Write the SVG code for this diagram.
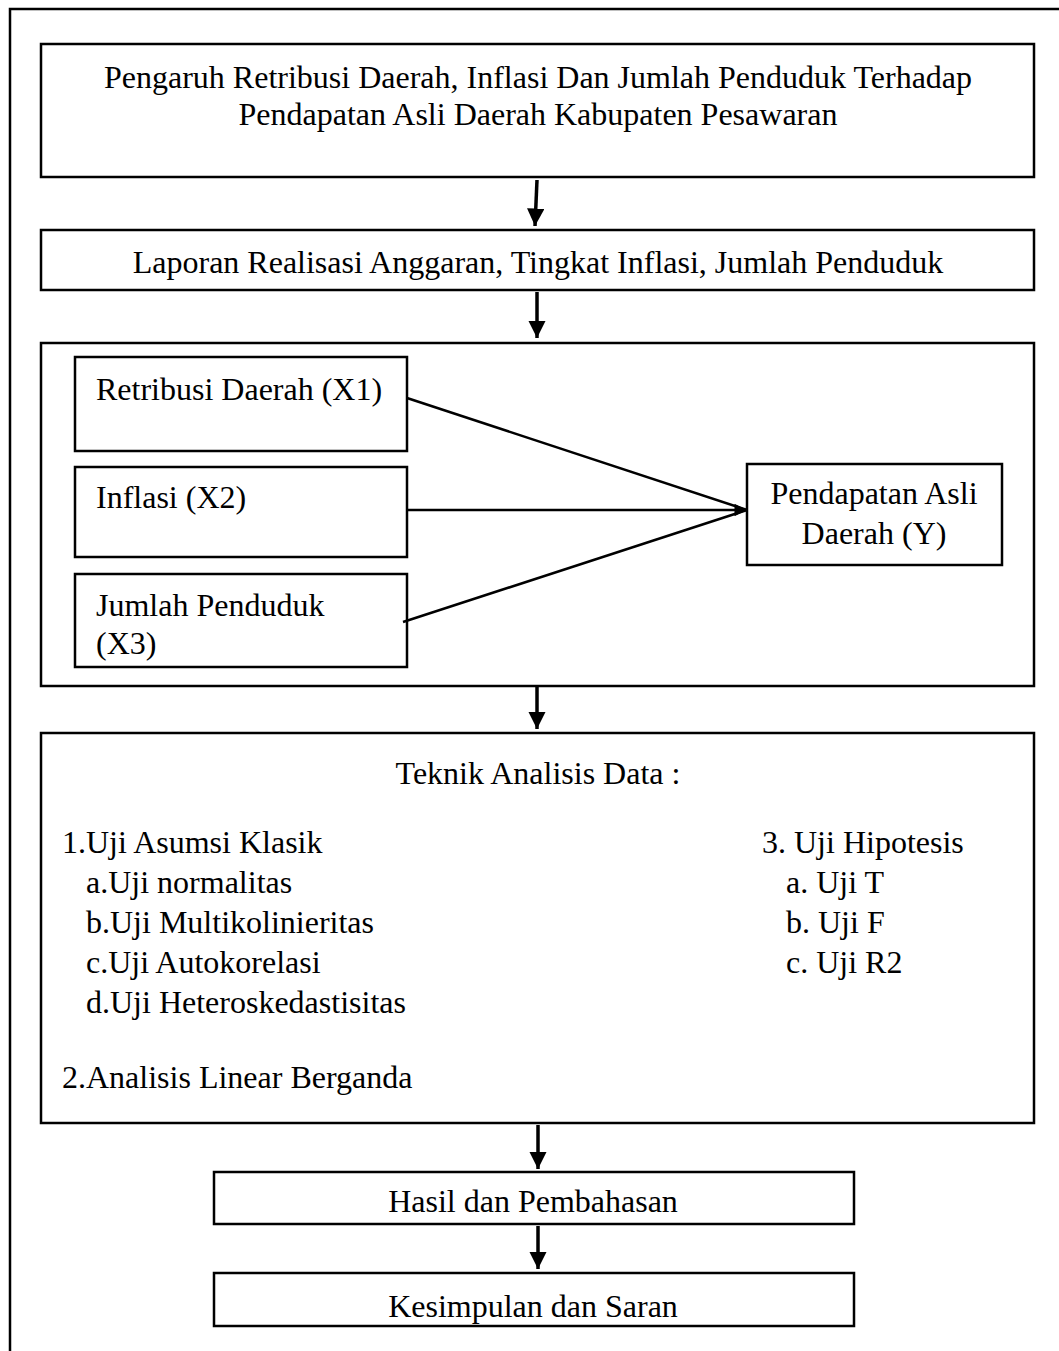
<svg xmlns="http://www.w3.org/2000/svg" width="1059" height="1351" viewBox="0 0 1059 1351">
<style>
.box{fill:#fff;stroke:#000;stroke-width:2.5}
.t{font-family:"Liberation Serif","Times New Roman",serif;font-size:32px;fill:#000}
.c{text-anchor:middle}
.ln{stroke:#000;stroke-width:2.5;fill:none}
.ar{stroke:#000;stroke-width:3.5;fill:none}
</style>
<defs>
<marker id="ah" viewBox="0 0 10 10" refX="10" refY="5" markerWidth="5" markerHeight="5" orient="auto" markerUnits="strokeWidth">
<path d="M0,0 L10,5 L0,10 z" fill="#000"/>
</marker>
<marker id="ah2" viewBox="0 0 10 10" refX="10" refY="5" markerWidth="6" markerHeight="5" orient="auto" markerUnits="strokeWidth">
<path d="M0,0 L10,5 L0,10 z" fill="#000"/>
</marker>
</defs>
<rect width="1059" height="1351" fill="#fff"/>
<rect id="frame" x="10" y="9" width="1070" height="1360" fill="none" stroke="#000" stroke-width="2.5"/>

<g id="n-title">
<rect class="box" x="41" y="44" width="993" height="133"/>
<text class="t c" x="538" y="88">Pengaruh Retribusi Daerah, Inflasi Dan Jumlah Penduduk Terhadap</text>
<text class="t c" x="538" y="125">Pendapatan Asli Daerah Kabupaten Pesawaran</text>
</g>
<g id="n-data">
<rect class="box" x="41" y="230" width="993" height="60"/>
<text class="t c" x="538" y="273">Laporan Realisasi Anggaran, Tingkat Inflasi, Jumlah Penduduk</text>
</g>
<g id="n-model">
<rect class="box" x="41" y="343" width="993" height="343"/>
</g>
<g id="n-x1">
<rect class="box" x="75" y="357" width="332" height="94"/>
<text class="t" x="96" y="400">Retribusi Daerah (X1)</text>
</g>
<g id="n-x2">
<rect class="box" x="75" y="467" width="332" height="90"/>
<text class="t" x="96" y="508">Inflasi (X2)</text>
</g>
<g id="n-x3">
<rect class="box" x="75" y="574" width="332" height="93"/>
<text class="t" x="96" y="616">Jumlah Penduduk</text>
<text class="t" x="96" y="654">(X3)</text>
</g>
<g id="n-y">
<rect class="box" x="747" y="464" width="255" height="101"/>
<text class="t c" x="874" y="504">Pendapatan Asli</text>
<text class="t c" x="874" y="544">Daerah (Y)</text>
</g>
<g id="n-analysis">
<rect class="box" x="41" y="733" width="993" height="390"/>
<text class="t c" x="538" y="784">Teknik Analisis Data :</text>
<text class="t" x="62" y="853">1.Uji Asumsi Klasik</text>
<text class="t" x="86" y="893">a.Uji normalitas</text>
<text class="t" x="86" y="933">b.Uji Multikolinieritas</text>
<text class="t" x="86" y="973">c.Uji Autokorelasi</text>
<text class="t" x="86" y="1013">d.Uji Heteroskedastisitas</text>
<text class="t" x="62" y="1088">2.Analisis Linear Berganda</text>
<text class="t" x="762" y="853">3. Uji Hipotesis</text>
<text class="t" x="786" y="893">a. Uji T</text>
<text class="t" x="786" y="933">b. Uji F</text>
<text class="t" x="786" y="973">c. Uji R2</text>
</g>
<g id="n-result">
<rect class="box" x="214" y="1172" width="640" height="52"/>
<text class="t c" x="533" y="1212">Hasil dan Pembahasan</text>
</g>
<g id="n-concl">
<rect class="box" x="214" y="1273" width="640" height="53"/>
<text class="t c" x="533" y="1317">Kesimpulan dan Saran</text>
</g>

<g id="connectors">
<line class="ar" x1="537" y1="180" x2="535" y2="226" marker-end="url(#ah)"/>
<line class="ar" x1="537" y1="292" x2="537" y2="338" marker-end="url(#ah)"/>
<line class="ar" x1="537" y1="687" x2="537" y2="729" marker-end="url(#ah)"/>
<line class="ar" x1="538" y1="1125" x2="538" y2="1169" marker-end="url(#ah)"/>
<line class="ar" x1="538" y1="1226" x2="538" y2="1269" marker-end="url(#ah)"/>
<line class="ln" x1="407" y1="398" x2="747" y2="510"/>
<line class="ln" x1="407" y1="510" x2="747" y2="510" marker-end="url(#ah2)"/>
<line class="ln" x1="403" y1="622" x2="747" y2="510"/>
</g>
</svg>
